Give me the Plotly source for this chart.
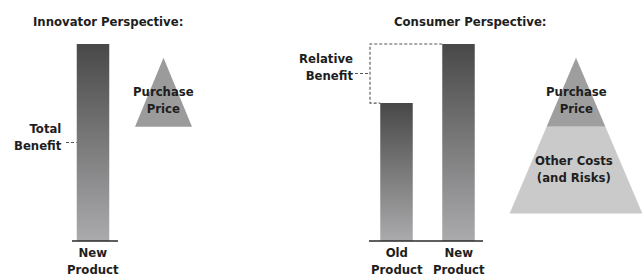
import plotly.graph_objects as go

# ---------------- data ----------------
innovator_categories = ["New Product"]
innovator_benefit = [100]          # total benefit of the new product
consumer_categories = ["Old Product", "New Product"]
consumer_benefit = [70, 100]       # benefit of old vs new product
innovator_price = [35]             # purchase price (innovator view)
consumer_cost_labels = ["Purchase Price", "Other Costs (and Risks)"]
consumer_costs = [35, 44]          # purchase price, other costs & risks

# ---------------- layout constants ----------------
W, H = 643, 277
BASE_PX, TOP_PX = 241, 44           # pixel rows of value 0 and value 100
PX_PER_UNIT = (BASE_PX - TOP_PX) / 100.0
Y_MIN = -(H - BASE_PX) / PX_PER_UNIT
Y_MAX = BASE_PX / PX_PER_UNIT


def Y(py):
    """pixel row -> axis value (used for text placement only)"""
    return (BASE_PX - py) / PX_PER_UNIT


FONT = "DejaVu Sans Condensed, Liberation Sans Narrow, Arial Narrow, sans-serif"
TXT = "#1e1e1e"
BAR_SCALE = [[0, "#ababad"], [1, "#484848"]]
innov_x = [93]
cons_x = [396.5, 458.5]
BAR_W = 32.5
TRI_APEX = 93
INNOV_SLOPE = 0.814
CONS_SLOPE = 0.84

fig = go.Figure()


def add_bar(xc, val):
    x0, x1 = xc - BAR_W / 2, xc + BAR_W / 2
    fig.add_trace(go.Scatter(
        x=[x0, x1, x1, x0, x0], y=[0, 0, val, val, 0],
        mode="lines", line=dict(width=0), fill="toself",
        fillgradient=dict(type="vertical", colorscale=BAR_SCALE, start=0, stop=val),
        hoverinfo="skip", showlegend=False))


for xc, v in zip(innov_x, innovator_benefit):
    add_bar(xc, v)
for xc, v in zip(cons_x, consumer_benefit):
    add_bar(xc, v)


def add_trapezoid(xc, top, bottom, apex, slope, color):
    ht = (apex - top) * slope
    hb = (apex - bottom) * slope
    fig.add_trace(go.Scatter(
        x=[xc - ht, xc + ht, xc + hb, xc - hb, xc - ht],
        y=[top, top, bottom, bottom, top],
        mode="lines", line=dict(width=0), fill="toself", fillcolor=color,
        hoverinfo="skip", showlegend=False))


# innovator triangle: purchase price
add_trapezoid(163.5, TRI_APEX, TRI_APEX - innovator_price[0], TRI_APEX, INNOV_SLOPE, "#9b9b9b")
# consumer triangle: price on top, other costs below
c_mid = TRI_APEX - consumer_costs[0]
c_bot = c_mid - consumer_costs[1]
add_trapezoid(576, TRI_APEX, c_mid, TRI_APEX, CONS_SLOPE, "#9e9e9e")
add_trapezoid(576, c_mid, c_bot, TRI_APEX, CONS_SLOPE, "#cacaca")

# baselines
fig.add_trace(go.Scatter(x=[72, 118], y=[0, 0], mode="lines",
                         line=dict(color="#2a2a2a", width=1.6),
                         hoverinfo="skip", showlegend=False))
fig.add_trace(go.Scatter(x=[369, 483], y=[0, 0], mode="lines",
                         line=dict(color="#2a2a2a", width=1.6),
                         hoverinfo="skip", showlegend=False))

# dashed relative-benefit bracket
old_v, new_v = consumer_benefit
old_left = cons_x[0] - BAR_W / 2
new_left = cons_x[1] - BAR_W / 2
bx = 370
DASH = dict(color="#555555", width=1.1, dash="3px,2px")
fig.add_trace(go.Scatter(x=[new_left, bx, bx, old_left], y=[new_v, new_v, old_v, old_v],
                         mode="lines", line=DASH, hoverinfo="skip", showlegend=False))
# leaders
fig.add_trace(go.Scatter(x=[355, bx], y=[(old_v + new_v) / 2] * 2, mode="lines",
                         line=DASH, hoverinfo="skip", showlegend=False))
fig.add_trace(go.Scatter(x=[66, innov_x[0] - BAR_W / 2], y=[innovator_benefit[0] / 2] * 2,
                         mode="lines", line=DASH, hoverinfo="skip", showlegend=False))


def label(x, py, text, xanchor="center", size=13):
    fig.add_annotation(x=x, y=Y(py), text=text, showarrow=False, xanchor=xanchor,
                       yanchor="middle", font=dict(family=FONT, size=size, color=TXT),
                       align="right" if xanchor == "right" else "center")


label(107.5, 21, "<b>Innovator Perspective:</b>")
label(470, 21, "<b>Consumer Perspective:</b>")
label(63.5, 137, "<b>Total<br>Benefit</b>", xanchor="right")
label(354.5, 67, "<b>Relative<br>Benefit</b>", xanchor="right")
label(innov_x[0], 261, "<b>" + innovator_categories[0].replace(" ", "<br>") + "</b>")
for xc, c in zip(cons_x, consumer_categories):
    label(xc, 261, "<b>" + c.replace(" ", "<br>") + "</b>")
label(163.5, 99.5, "<b>Purchase<br>Price</b>")
label(576, 100, "<b>" + consumer_cost_labels[0].replace(" ", "<br>") + "</b>")
label(574, 169, "<b>Other Costs<br>(and Risks)</b>")

fig.update_layout(
    width=W, height=H, margin=dict(l=0, r=0, t=0, b=0),
    paper_bgcolor="white", plot_bgcolor="white",
    xaxis=dict(range=[0, W], visible=False, fixedrange=True),
    yaxis=dict(range=[Y_MIN, Y_MAX], visible=False, fixedrange=True),
    showlegend=False,
)
fig.write_html("out.html", config={"displayModeBar": False},
               post_script="document.body.style.margin='0';document.body.style.overflow='hidden';")
